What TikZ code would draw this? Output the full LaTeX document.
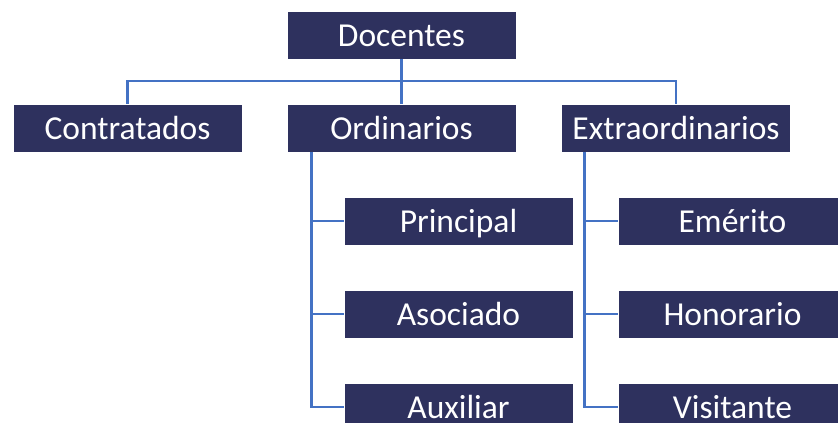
\documentclass[tikz,border=0pt]{standalone}
\usepackage{fontspec}
\setmainfont{Carlito}
\usetikzlibrary{calc}
\definecolor{cajaazul}{RGB}{46,49,94}
\definecolor{lineaazul}{RGB}{68,114,196}

\tikzset{
  caja/.style={fill=cajaazul, draw=white, line width=0.6pt, text=white,
    minimum width=229pt, minimum height=48pt, inner sep=0pt,
    text height=29.7pt, text depth=7.7pt,
    font=\fontsize{33.5}{40}\selectfont},
  rama/.style={draw=lineaazul, line width=2.6pt}
}

\begin{document}
\begin{tikzpicture}[x=1pt, y=-1pt]
\useasboundingbox (0,0) rectangle (838,423);
\clip (0,0) rectangle (838,423);

\coordinate (D) at (401.5,35);
\coordinate (C) at (127.5,128); \coordinate (O) at (401.5,128); \coordinate (E) at (676,128);
\coordinate (P) at (458.5,221); \coordinate (A) at (458.5,314); \coordinate (X) at (458.5,407);
\coordinate (M) at (732.5,221); \coordinate (H) at (732.5,314); \coordinate (V) at (732.5,407);

\node[caja] (doc) at (D) {Docentes};
\node[caja] (con) at (C) {Contratados};
\node[caja] (ord) at (O) {Ordinarios};
\node[caja] (ext) at (E) {Extraordinarios};
\node[caja] (pri) at (P) {Principal};
\node[caja] (aso) at (A) {Asociado};
\node[caja] (aux) at (X) {Auxiliar};
\node[caja] (eme) at (M) {Emérito};
\node[caja] (hon) at (H) {Honorario};
\node[caja] (vis) at (V) {Visitante};

\coordinate (bus) at (401.5,81);
\draw[rama] (doc) -- (ord);
\draw[rama] (con.north) -- (con.north |- bus) -- (ext.north |- bus) -- (ext.north);

\coordinate (ordlinea) at ([xshift=25pt]ord.south west);
\coordinate (extlinea) at ([xshift=23pt]ext.south west);
\draw[rama] (ordlinea) |- (aux.west);
\draw[rama] (ordlinea |- pri.west) -- (pri.west);
\draw[rama] (ordlinea |- aso.west) -- (aso.west);
\draw[rama] (extlinea) |- (vis.west);
\draw[rama] (extlinea |- eme.west) -- (eme.west);
\draw[rama] (extlinea |- hon.west) -- (hon.west);

\end{tikzpicture}
\end{document}
